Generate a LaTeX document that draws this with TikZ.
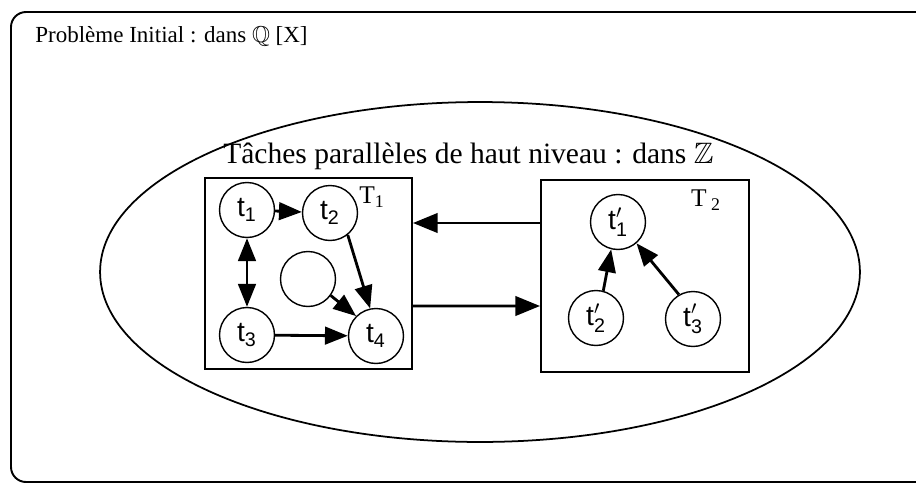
\documentclass[tikz,border=0pt]{standalone}
\usepackage{amssymb}
\usepackage{fontspec}
\setmainfont{Liberation Serif}
\setsansfont{Liberation Sans}
\usetikzlibrary{positioning,calc,arrows.meta}

\tikzset{
  tache/.style={draw, circle, line width=0.8pt, minimum size=1.1cm, inner sep=0pt,
    font=\fontsize{16}{16}\selectfont},
  bloc/.style={draw, line width=1.1pt, inner sep=0pt},
  dep/.style={-{Triangle[length=13pt,width=10pt]}, line width=1.6pt},
  titre/.style={anchor=base west, inner sep=0pt},
}
\newcommand{\tk}[1]{$\mathsf{t}_{\mathsf{#1}}$}
\newcommand{\tkp}[1]{$\mathsf{t}'_{\mathsf{#1}}$}

\begin{document}
\begin{tikzpicture}[x=0.02cm,y=-0.02cm]
\useasboundingbox (0,0) rectangle (916,487);
% cadre du probleme initial
\draw[line width=1.1pt, rounded corners=0.3cm] (916,12) -- (11,12) -- (11,482) -- (916,482);
\node[titre, font=\fontsize{13.1}{14}\selectfont] (pbinit) at (35,42) {Problème Initial : dans $\mathbb{Q}$ [X]};
% taches de haut niveau
\draw[line width=1pt] (480,272) ellipse [x radius=7.6cm, y radius=3.4cm];
\node[titre, font=\fontsize{16.8}{17}\selectfont] (hautniv) at (223,163) {Tâches parallèles de haut niveau : dans $\mathbb{Z}$};
\node[bloc, minimum width=4.14cm, minimum height=3.82cm] (T1) at (308.5,273.5) {};
\node[bloc, minimum width=4.16cm, minimum height=3.84cm] (T2) at (645,276) {};
\node[font=\fontsize{14.5}{15}\selectfont] (labT1) at (372,197) {T\textsubscript{1}};
\node[font=\fontsize{14.5}{15}\selectfont] (labT2) at (706,200) {T\,\textsubscript{2}};
% T1
\node[tache] (t1) at (247,210) {\tk{1}};
\node[tache] (t2) at (330,213) {\tk{2}};
\node[tache] (tm) at (308,279) {};
\node[tache] (t3) at (247,335) {\tk{3}};
\node[tache] (t4) at (376,336) {\tk{4}};
\draw[dep] (t1) -- (t2);
\draw[dep, {Triangle[length=13pt,width=10pt]}-{Triangle[length=13pt,width=10pt]}] (t1) -- (t3);
\draw[dep] (t2.-51) -- (t4.102);
\draw[dep] (tm.-36) -- (t4.135);
\draw[dep] (t3) -- (t4);
% T2
\node[tache] (tp1) at (618,222) {\tkp{1}};
\node[tache] (tp2) at (596,318) {\tkp{2}};
\node[tache] (tp3) at (693,319) {\tkp{3}};
\draw[dep] (tp2.75) -- (tp1.-104);
\draw[dep] (tp3.120) -- (tp1.-49);
% entre les blocs
\draw[dep, -{Triangle[length=14pt,width=11pt]}] ($(T2.west)+(0,-53)$) -- ($(T1.east)+(0,-50.5)$);
\draw[dep, -{Triangle[length=14pt,width=11pt]}] ($(T1.east)+(0,32.5)$) -- ($(T2.west)+(0,30)$);
\end{tikzpicture}
\end{document}
